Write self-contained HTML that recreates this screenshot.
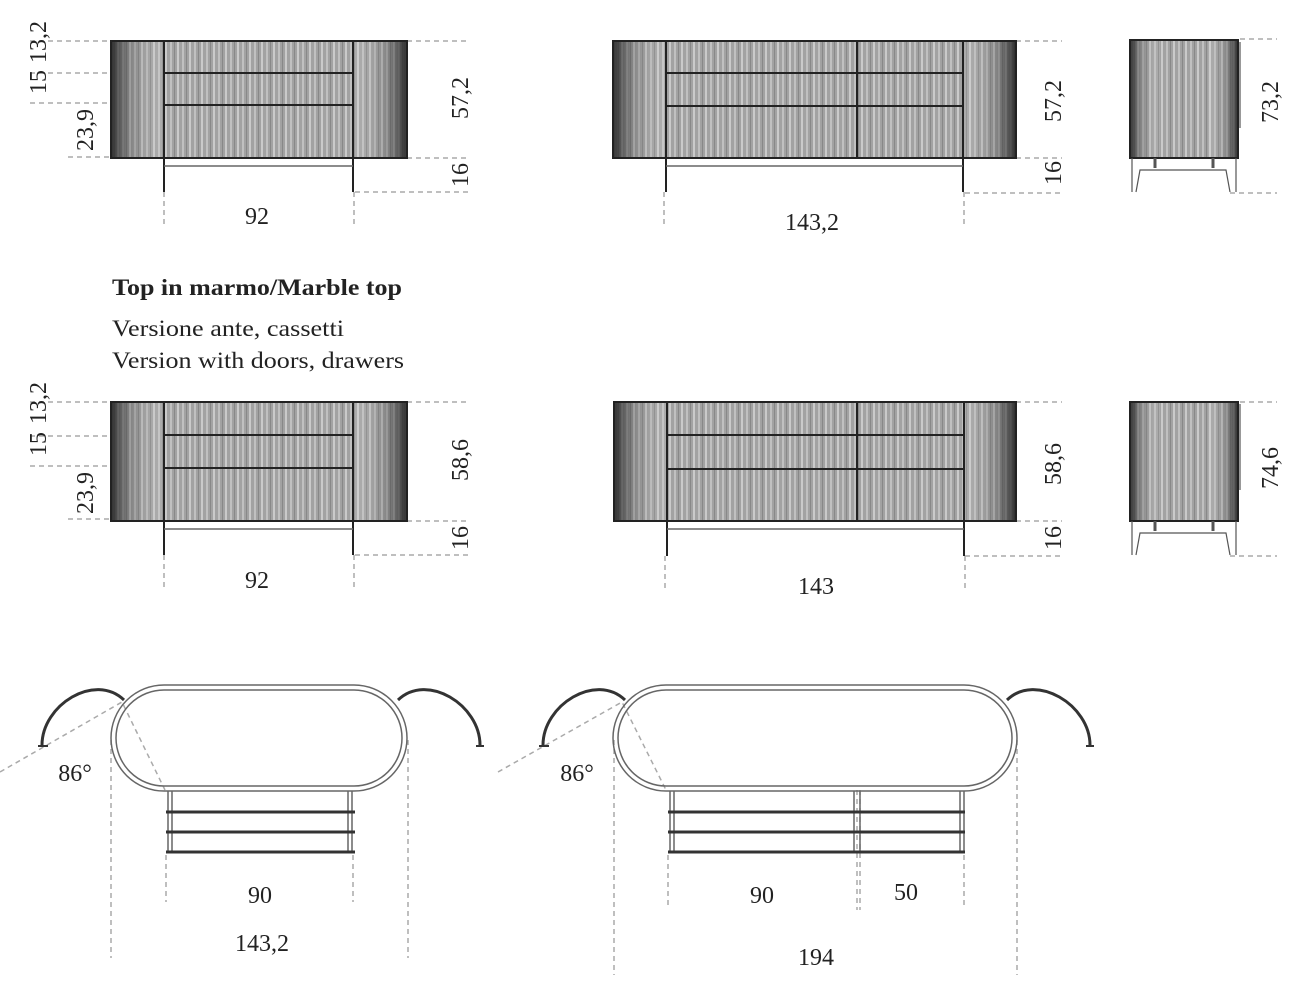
<!DOCTYPE html>
<html><head><meta charset="utf-8"><style>
html,body{margin:0;padding:0;background:#fff;}
svg{display:block;}
text{font-family:"Liberation Serif",serif;fill:#222;}
</style></head><body>
<svg width="1297" height="1000" viewBox="0 0 1297 1000" xmlns="http://www.w3.org/2000/svg">
<defs>
<pattern id="st" width="12" height="10" patternUnits="userSpaceOnUse">
<rect width="12" height="10" fill="#a2a2a2"/>
<rect x="2" width="2" height="10" fill="#c0c0c0"/>
<rect x="6" width="1" height="10" fill="#888"/>
<rect x="9" width="2" height="10" fill="#cacaca"/>
</pattern>
<linearGradient id="eL" x1="0" x2="1"><stop offset="0" stop-color="#222" stop-opacity=".9"/><stop offset=".35" stop-color="#444" stop-opacity=".35"/><stop offset="1" stop-color="#fff" stop-opacity=".1"/></linearGradient>
<linearGradient id="eR" x1="1" x2="0"><stop offset="0" stop-color="#222" stop-opacity=".9"/><stop offset=".35" stop-color="#444" stop-opacity=".35"/><stop offset="1" stop-color="#fff" stop-opacity=".1"/></linearGradient>
</defs>

<g stroke="#aaa" stroke-width="1.5" stroke-dasharray="5,4" fill="none">
<path d="M30 41H111M30 73H164M30 103H164M68 157H111M407 41H468M407 158H468M355 192H468M164 192V226M354 192V226"/>
<path d="M1016 41H1062M1016 158H1062M965 193H1062M664 192V228M964 192V228"/>
<path d="M1240 39H1277M1230 193H1277"/>
<path d="M30 402H111M30 436H164M30 466H164M68 519H111M407 402H468M407 521H468M355 555H468M164 555V588M354 555V588"/>
<path d="M1016 402H1062M1016 521H1062M965 556H1062M665 556V592M965 556V592"/>
<path d="M1240 402H1277M1230 556H1277"/>
<path d="M111 740V958M408 740V958M166 855V902M353 855V902M0 772L122 702L165 790"/>
<path d="M614 740V975M1017 740V975M668 855V905M857 790V910M860 790V910M964 855V905M498 772L622 702L666 790"/>
</g>

<g stroke="#222" stroke-width="2">
<rect x="111" y="41" width="296" height="117" fill="url(#st)"/>
<rect x="111" y="41" width="53" height="117" fill="url(#eL)" stroke="none"/>
<rect x="354" y="41" width="53" height="117" fill="url(#eR)" stroke="none"/>
<rect x="111" y="41" width="296" height="117" fill="none"/>
<path d="M164 41V192M353 41V192M164 73H353M164 105H353" />
<path d="M164 166H353" stroke="#666" stroke-width="1.5"/>

<rect x="613" y="41" width="403" height="117" fill="url(#st)"/>
<rect x="613" y="41" width="53" height="117" fill="url(#eL)" stroke="none"/>
<rect x="963" y="41" width="53" height="117" fill="url(#eR)" stroke="none"/>
<rect x="613" y="41" width="403" height="117" fill="none"/>
<path d="M666 41V192M963 41V192M857 41V158M666 73H963M666 106H963"/>
<path d="M666 166H963" stroke="#666" stroke-width="1.5"/>

<rect x="1130" y="40" width="108" height="118" fill="url(#st)"/>
<rect x="1130" y="40" width="30" height="118" fill="url(#eL)" stroke="none"/>
<rect x="1208" y="40" width="30" height="118" fill="url(#eR)" stroke="none"/>
<rect x="1130" y="40" width="108" height="118" fill="none"/>
</g>
<g stroke="#555" stroke-width="1.2" fill="none">
<path d="M1132 158V192M1236 158V192M1136 192L1140 170H1226L1230 192M1240 42V128"/>
<path d="M1155 158V168M1213 158V168" stroke-width="3"/>
</g>

<g stroke="#222" stroke-width="2">
<rect x="111" y="402" width="296" height="119" fill="url(#st)"/>
<rect x="111" y="402" width="53" height="119" fill="url(#eL)" stroke="none"/>
<rect x="354" y="402" width="53" height="119" fill="url(#eR)" stroke="none"/>
<rect x="111" y="402" width="296" height="119" fill="none"/>
<path d="M164 402V555M353 402V555M164 435H353M164 468H353"/>
<path d="M164 529H353" stroke="#666" stroke-width="1.5"/>

<rect x="614" y="402" width="402" height="119" fill="url(#st)"/>
<rect x="614" y="402" width="53" height="119" fill="url(#eL)" stroke="none"/>
<rect x="963" y="402" width="53" height="119" fill="url(#eR)" stroke="none"/>
<rect x="614" y="402" width="402" height="119" fill="none"/>
<path d="M667 402V556M964 402V556M857 402V521M667 435H964M667 469H964"/>
<path d="M667 529H964" stroke="#666" stroke-width="1.5"/>

<rect x="1130" y="402" width="108" height="119" fill="url(#st)"/>
<rect x="1130" y="402" width="30" height="119" fill="url(#eL)" stroke="none"/>
<rect x="1208" y="402" width="30" height="119" fill="url(#eR)" stroke="none"/>
<rect x="1130" y="402" width="108" height="119" fill="none"/>
</g>
<g stroke="#555" stroke-width="1.2" fill="none">
<path d="M1132 521V555M1236 521V555M1136 555L1140 533H1226L1230 555M1240 404V490"/>
<path d="M1155 521V531M1213 521V531" stroke-width="3"/>
</g>

<g fill="none" stroke="#666" stroke-width="1.5">
<rect x="111" y="685" width="296" height="106" rx="53"/>
<rect x="116" y="690" width="286" height="96" rx="48"/>
<path d="M168 791V853M172 791V853M348 791V853M352 791V853"/>
<rect x="613" y="685" width="404" height="106" rx="53"/>
<rect x="618" y="690" width="394" height="96" rx="48"/>
<path d="M670 791V853M674 791V853M854 791V853M860 791V853M960 791V853M964 791V853"/>
</g>
<g stroke="#333" stroke-width="3" fill="none">
<path d="M166 812H355M166 832H355M166 852H355"/>
<path d="M668 812H965M668 832H965M668 852H965"/>
<path d="M42 745C42 705 95 672 124 700"/>
<path d="M398 700C427 672 480 705 480 745"/>
<path d="M543 745C543 705 596 672 625 700"/>
<path d="M1007 700C1036 672 1090 705 1090 745"/>
<path d="M38 746H48M476 746H484M539 746H549M1086 746H1094" stroke-width="2"/>
</g>

<g font-size="24">
<text x="257" y="224" text-anchor="middle">92</text>
<text x="812" y="230" text-anchor="middle">143,2</text>
<text x="257" y="588" text-anchor="middle">92</text>
<text x="816" y="594" text-anchor="middle">143</text>
<text x="75" y="781" text-anchor="middle">86°</text>
<text x="577" y="781" text-anchor="middle">86°</text>
<text x="260" y="903" text-anchor="middle">90</text>
<text x="262" y="951" text-anchor="middle">143,2</text>
<text x="762" y="903" text-anchor="middle">90</text>
<text x="906" y="900" text-anchor="middle">50</text>
<text x="816" y="965" text-anchor="middle">194</text>
</g>
<g font-size="24" text-anchor="middle">
<text transform="translate(46,42) rotate(-90)">13,2</text>
<text transform="translate(46,82) rotate(-90)">15</text>
<text transform="translate(93,130) rotate(-90)">23,9</text>
<text transform="translate(468,98) rotate(-90)">57,2</text>
<text transform="translate(468,175) rotate(-90)">16</text>
<text transform="translate(1061,101) rotate(-90)">57,2</text>
<text transform="translate(1061,173) rotate(-90)">16</text>
<text transform="translate(1278,102) rotate(-90)">73,2</text>
<text transform="translate(46,403) rotate(-90)">13,2</text>
<text transform="translate(46,444) rotate(-90)">15</text>
<text transform="translate(93,493) rotate(-90)">23,9</text>
<text transform="translate(468,460) rotate(-90)">58,6</text>
<text transform="translate(468,538) rotate(-90)">16</text>
<text transform="translate(1061,464) rotate(-90)">58,6</text>
<text transform="translate(1061,538) rotate(-90)">16</text>
<text transform="translate(1278,468) rotate(-90)">74,6</text>
</g>
<text x="112" y="295" font-size="23" font-weight="bold" textLength="290" lengthAdjust="spacingAndGlyphs">Top in marmo/Marble top</text>
<text x="112" y="336" font-size="23" textLength="232" lengthAdjust="spacingAndGlyphs">Versione ante, cassetti</text>
<text x="112" y="368" font-size="23" textLength="292" lengthAdjust="spacingAndGlyphs">Version with doors, drawers</text>
</svg>
</body></html>
